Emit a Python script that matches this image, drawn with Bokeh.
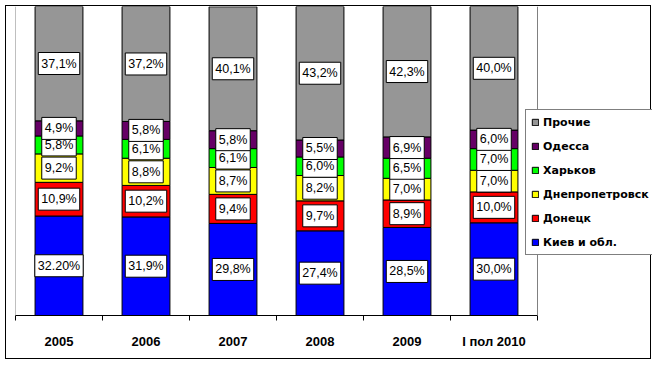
from bokeh.plotting import figure
from bokeh.models import ColumnDataSource, Range1d, FixedTicker, Legend, LegendItem, Span
from bokeh.core.properties import value
from bokeh.embed import file_html
from bokeh.resources import INLINE

categories = ["2005", "2006", "2007", "2008", "2009", "I пол 2010"]
series = ["Киев и обл.", "Донецк", "Днепропетровск", "Харьков", "Одесса", "Прочие"]
kiev = [32.2, 31.9, 29.8, 27.4, 28.5, 30.0]
donetsk = [10.9, 10.2, 9.4, 9.7, 8.9, 10.0]
dnepr = [9.2, 8.8, 8.7, 8.2, 7.0, 7.0]
kharkov = [5.8, 6.1, 6.1, 6.0, 6.5, 7.0]
odessa = [4.9, 5.8, 5.8, 5.5, 6.9, 6.0]
other = [37.1, 37.2, 40.1, 43.2, 42.3, 40.0]
kiev_labels = ["32.20%", "31,9%", "29,8%", "27,4%", "28,5%", "30,0%"]
colors = ["#0000FF", "#FF0000", "#FFFF00", "#00FF00", "#660066", "#969696"]

values = [kiev, donetsk, dnepr, kharkov, odessa, other]
keys = ["s%d" % i for i in range(len(series))]
n = len(categories)
xs = [i + 0.5 for i in range(n)]

data = {"x": xs}
for k, v in zip(keys, values):
    data[k] = v
source = ColumnDataSource(data)

W, H = 646, 354
left_b, bottom_b = 9, 45
frame_w = W - left_b
plot_w = 522  # pixel width of the category area
x_end = n * frame_w / plot_w

p = figure(width=W, height=H, output_backend="svg", toolbar_location=None,
           x_range=Range1d(0, x_end), y_range=Range1d(0, 100),
           min_border_left=left_b, min_border_right=0, min_border_top=0,
           min_border_bottom=bottom_b,
           styles={"border": "1px solid black", "margin-left": "5px", "margin-top": "5px"})
p.grid.visible = False
p.yaxis.visible = False
p.outline_line_color = None
p.background_fill_color = "white"

p.add_layout(Span(location=0, dimension="height", line_color="#808080", line_width=1))
p.add_layout(Span(location=n, dimension="height", line_color="#808080", line_width=1))

rends = p.vbar_stack(keys, x="x", width=0.55, source=source, fill_color=colors,
                     line_color="black", line_width=1)

# labels
lx, ly, lt = [], [], []
for j, (k, v) in enumerate(zip(keys, values)):
    for i in range(n):
        bottom = sum(values[m][i] for m in range(j))
        lx.append(xs[i])
        ly.append(bottom + v[i] / 2)
        if j == 0:
            lt.append(kiev_labels[i])
        else:
            lt.append(("%.1f%%" % v[i]).replace(".", ","))
lsrc = ColumnDataSource(dict(x=lx, y=ly, t=lt))
p.text(x="x", y="y", text="t", source=lsrc, text_align="center", text_baseline="middle",
       text_font=value("Liberation Sans"), text_font_size="12.5px", text_color="black",
       background_fill_color="white", border_line_color="black", border_line_width=1,
       padding=dict(left=3, right=3, top=4, bottom=4))

ax = p.xaxis[0]
ax.bounds = (0, n)
ax.ticker = FixedTicker(ticks=xs, minor_ticks=list(range(n + 1)))
ax.major_label_overrides = {x: c for x, c in zip(xs, categories)}
ax.major_tick_out = 0
ax.major_tick_in = 0
ax.minor_tick_out = 5
ax.minor_tick_in = 0
ax.minor_tick_line_color = "black"
ax.axis_line_color = "black"
ax.major_label_text_font = "Liberation Sans"
ax.major_label_text_font_style = "bold"
ax.major_label_text_font_size = "13px"
ax.major_label_text_color = "black"
ax.major_label_standoff = 13

items = [LegendItem(label=s, renderers=[r]) for s, r in zip(series, rends)][::-1]
legend = Legend(items=items, location=(510, 60), border_line_color="black",
                border_line_width=1, background_fill_color="white", background_fill_alpha=1,
                label_text_font="DejaVu Sans", label_text_font_style="bold",
                label_text_font_size="11px", label_text_color="black",
                glyph_width=8, glyph_height=8, label_height=14, label_standoff=4,
                spacing=10, padding=5, margin=0)
p.add_layout(legend)

open("out.html", "w").write(file_html(p, INLINE))
